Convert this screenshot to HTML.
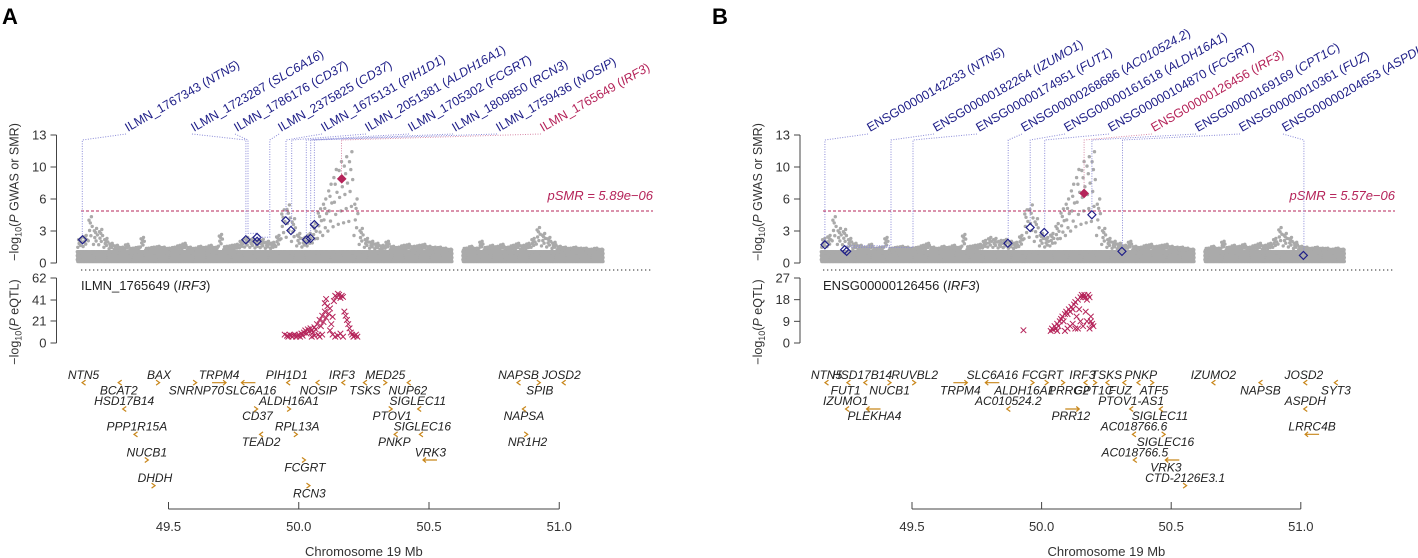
<!DOCTYPE html>
<html><head><meta charset="utf-8"><style>
html,body{margin:0;padding:0;background:#fff}
svg{display:block;font-family:"Liberation Sans",sans-serif}
</style></head><body>
<svg id="c" width="1418" height="558" viewBox="0 0 1418 558">
<text x="2" y="24" font-size="22" font-weight="bold">A</text>
<text x="712" y="24" font-size="22" font-weight="bold">B</text>
</svg>
<script>
// GWAS envelope (max -log10 P) per 0.02 Mb bin starting at 49.16
const gwasStart = 49.16;
const gwasStep = 0.02;
const gwasEnvelope = [2.5,2.8,4.7,3.5,3.4,2.5,2.0,1.8,1.6,1.9,1.5,1.6,2.6,1.5,1.6,1.7,1.6,1.5,1.6,1.8,2.0,1.6,1.5,1.7,1.6,1.8,1.6,2.9,1.7,1.8,1.9,2.3,2.6,2.5,2.3,2.4,2.2,2.1,2.8,5.4,5.9,4.5,3.0,2.6,3.0,4.0,5.5,6.5,8.0,9.5,10.3,10.8,11.3,6.5,3.5,2.5,2.2,2.0,1.8,2.2,1.7,1.6,1.8,1.9,1.7,1.8,1.9,1.7,1.6,1.6,1.5,1.4,null,null,1.5,1.7,1.5,2.2,1.6,1.8,1.7,1.9,1.6,1.8,2.0,1.8,2.0,2.5,3.6,3.0,2.6,2.1,1.7,1.6,1.5,1.6,1.5,1.5,1.4,1.5,1.4];
const xTicks = [49.5,50.0,50.5,51.0];
const xTickLabels = ["49.5","50.0","50.5","51.0"];
const gwasTickLabels = ["0","3","6","10","13"];
// Panel A
const aProbeNames = ["ILMN_1767343","ILMN_1723287","ILMN_1786176","ILMN_2375825","ILMN_1675131","ILMN_2051381","ILMN_1705302","ILMN_1809850","ILMN_1759436","ILMN_1765649"];
const aProbeGenes = ["NTN5","SLC6A16","CD37","CD37","PIH1D1","ALDH16A1","FCGRT","RCN3","NOSIP","IRF3"];
const aProbePos = [49.169,49.797,49.805,49.889,49.951,49.973,50.029,50.046,50.06,50.164];
const aSmrPos = [49.17,49.797,49.84,49.84,49.95,49.97,50.03,50.045,50.06,50.165];
const aSmrVal = [2.36,2.36,2.6,2.2,4.3,3.3,2.36,2.5,3.9,8.55];
const aEqtl = [[49.946,8],[49.955,7],[49.96,6],[49.965,8],[49.97,7],[49.975,6],[49.98,7],[49.985,8],[49.99,6],[49.995,7],[50.0,8],[50.005,6],[50.01,9],[50.015,7],[50.02,10],[50.025,12],[50.03,9],[50.035,13],[50.04,11],[50.045,14],[50.05,12],[50.055,10],[50.06,15],[50.065,13],[50.07,18],[50.075,8],[50.08,22],[50.085,16],[50.09,26],[50.095,20],[50.1,30],[50.105,24],[50.1,38],[50.105,42],[50.11,35],[50.115,28],[50.12,33],[50.125,18],[50.13,25],[50.135,40],[50.14,45],[50.145,44],[50.15,47],[50.155,46],[50.16,43],[50.165,45],[50.17,44],[50.175,30],[50.18,26],[50.185,22],[50.19,18],[50.195,14],[50.2,10],[50.205,8],[50.21,6],[50.215,7],[50.22,8],[50.225,6],[50.13,8],[50.14,6],[50.15,7],[50.16,9],[50.17,6],[50.12,12],[50.09,8],[50.08,6],[50.06,7],[50.05,6]];
const aEqtlTicks = ["0","21","41","62"];
// Panel B
const bProbeNames = ["ENSG00000142233","ENSG00000182264","ENSG00000174951","ENSG00000268686","ENSG00000161618","ENSG00000104870","ENSG00000126456","ENSG00000169169","ENSG00000010361","ENSG00000204653"];
const bProbeGenes = ["NTN5","IZUMO1","FUT1","AC010524.2","ALDH16A1","FCGRT","IRF3","CPT1C","FUZ","ASPDH"];
const bProbePos = [49.164,49.419,49.504,49.871,49.956,50.012,50.164,50.194,50.312,51.012];
const bSmrPos = [49.164,49.24,49.248,49.87,49.956,50.01,50.164,50.194,50.31,51.01];
const bSmrVal = [1.85,1.35,1.18,2.0,3.6,3.1,7.07,4.9,1.18,0.77];
const bEqtl = [[49.93,5.3],[50.035,5],[50.04,6],[50.045,5.5],[50.05,7],[50.055,6],[50.06,8],[50.065,7],[50.07,9],[50.075,10],[50.08,11],[50.085,9],[50.09,12],[50.095,13],[50.1,12],[50.105,14],[50.11,13],[50.115,15],[50.12,14],[50.125,16],[50.13,17],[50.135,11],[50.14,18],[50.145,14],[50.15,19],[50.155,20],[50.16,19],[50.165,20],[50.17,19],[50.175,18],[50.18,20],[50.185,19],[50.19,9],[50.195,8],[50.2,7],[50.19,11],[50.185,6],[50.175,9],[50.17,13],[50.16,7],[50.15,9],[50.14,6],[50.13,6],[50.12,8],[50.11,7],[50.1,6],[50.09,5],[50.06,5]];
const bEqtlTicks = ["0","9","18","27"];
// gene tracks: [name, textX, textY, arrowX, arrowY, dir] (zoom units)
const aGenes = [["NTN5",185,75,185,98,"<"],["BAX",352,75,350,98,">"],["TRPM4",485,75,485,98,"→"],["PIH1D1",635,75,638,98,"<"],["IRF3",757,75,760,98,"<"],["MED25",853,75,853,98,">"],["NAPSB",1148,75,1148,98,"<"],["JOSD2",1243,75,1248,98,"<"],["BCAT2",263,122,265,98,"<"],["SNRNP70",435,122,432,98,">"],["SLC6A16",555,122,550,98,"←"],["NOSIP",705,122,703,98,"<"],["TSKS",808,122,808,98,"<"],["NUP62",903,122,905,98,"<"],["SPIB",1195,122,1193,98,">"],["HSD17B14",275,153,275,177,"<"],["ALDH16A1",640,153,640,177,">"],["SIGLEC11",925,153,928,177,"<"],["CD37",570,198,567,177,">"],["PTOV1",868,198,865,177,">"],["NAPSA",1160,198,1160,177,"<"],["PPP1R15A",303,230,300,253,"<"],["RPL13A",658,230,655,253,">"],["SIGLEC16",935,230,932,253,"<"],["TEAD2",578,276,578,253,"<"],["PNKP",873,276,876,253,"<"],["NR1H2",1168,276,1165,253,">"],["NUCB1",325,307,325,330,">"],["VRK3",953,307,952,330,"←"],["FCGRT",675,353,673,330,">"],["DHDH",343,384,340,407,">"],["RCN3",685,430,683,407,">"]];
const bGenes = [["NTN5",255,75,255,98,"<"],["HSD17B14",333,75,340,98,"<"],["RUVBL2",448,75,447,98,">"],["FUT1",297,122,303,98,"<"],["NUCB1",393,122,393,98,">"],["IZUMO1",297,153,300,177,"<"],["PLEKHA4",360,198,358,177,"←"],["SLC6A16",618,75,618,98,"←"],["TRPM4",548,122,548,98,"→"],["FCGRT",728,75,706,98,">"],["ALDH16A1",688,122,737,98,">"],["PRRG2",785,122,773,98,">"],["IRF3",815,75,822,98,"<"],["CPT1C",840,122,843,98,">"],["TSKS",868,75,870,98,"<"],["FUZ",898,122,907,98,"<"],["PNKP",943,75,938,98,"<"],["ATF5",972,122,968,98,">"],["AC010524.2",653,153,653,177,"<"],["PRR12",790,198,793,177,"→"],["PTOV1-AS1",922,153,922,177,"<"],["SIGLEC11",985,198,987,177,"<"],["AC018766.6",928,230,928,253,"<"],["SIGLEC16",997,276,993,253,">"],["AC018766.5",930,307,930,330,"<"],["VRK3",998,353,1012,330,"←"],["CTD-2126E3.1",1040,384,1040,407,">"],["IZUMO2",1102,75,1102,98,"<"],["NAPSB",1205,122,1205,98,"<"],["JOSD2",1300,75,1303,98,"<"],["SYT3",1370,122,1370,98,"<"],["ASPDH",1303,153,1303,177,"<"],["LRRC4B",1318,230,1318,253,"←"]];

const NS="http://www.w3.org/2000/svg";
const svg=document.getElementById('c');
function mk(tag,attrs,parent){const e=document.createElementNS(NS,tag);for(const k in attrs)e.setAttribute(k,attrs[k]);(parent||svg).appendChild(e);return e;}
const GRAY="#aaaaaa",NAVY="#1f1f88",RED="#b5245a",LEAD="#8a8ad8",ORANGE="#c8861a",AX="#444";

function panel(cfg){
  const g=mk('g',{});
  
  
  const X=m=>cfg.x0+(m-49.5)*cfg.sc;
  const Y=v=>263-v*(128/13);
  const YE=v=>343-v*(65/cfg.eMax);
  const pg=mk('g',{fill:GRAY},g);
  
  
  const bw=gwasStep*cfg.sc;
  const xo=[0.1,0.3,0.5,0.7,0.9], yl=[0.15,0.35,0.55,0.75,0.95,1.15];
  const fr=[0.3,0.45,0.6,0.72,0.82,0.9,1.0], fx=[0.1,0.6,0.35,0.85,0.5,0.25,0.7];
  gwasEnvelope.forEach((env,i)=>{
    if(env===null)return;
    const m=gwasStart+i*gwasStep, bx=X(m)-bw/2;
    xo.forEach((o,j)=>yl.forEach((l,k)=>{
      const c=mk('circle',{cx:(bx+((o+k*0.1)%1)*bw).toFixed(1),cy:Y(l).toFixed(1),r:1.7},pg);
      
      
    }));
    if(env>1.3){fr.forEach((f,j)=>{
      const c=mk('circle',{cx:(bx+fx[j]*bw).toFixed(1),cy:Y(1.2+(env-1.2)*f).toFixed(1),r:1.7},pg);
      
      
    });}
  });
  const th=mk('line',{x1:cfg.pL,x2:cfg.pR,y1:211,y2:211,stroke:RED,'stroke-width':1,'stroke-dasharray':'3,2'},g);
  
  
  const tt=mk('text',{x:cfg.pR,y:200,'text-anchor':'end','font-size':13,'font-style':'italic',fill:RED},g);
  tt.textContent=cfg.psmr;
  
  
  cfg.names.forEach((nm,i)=>{
    const col=i===cfg.hi?RED:NAVY, lcol=i===cfg.hi?"#d88aa8":LEAD;
    const px=X(cfg.probe[i]), dx=X(cfg.smrPos[i]), dy=Y(cfg.smrVal[i]);
    const pl=mk('polyline',{points:`${cfg.lx[i]},134 ${px.toFixed(1)},140 ${px.toFixed(1)},${(dy-4).toFixed(1)} ${dx.toFixed(1)},${(dy-4).toFixed(1)}`,fill:'none',stroke:lcol,'stroke-width':1,'stroke-dasharray':'1,1.5'},g);
    
    
    const t=mk('text',{x:cfg.lx[i]+2,y:132,'font-size':12.5,fill:col,transform:`rotate(-30 ${cfg.lx[i]+2} 132)`},g);
    
    
    t.appendChild(document.createTextNode(nm+' ('));
    const ts=mk('tspan',{'font-style':'italic'},t);ts.textContent=cfg.genes[i];
    t.appendChild(document.createTextNode(')'));
    const s=4;
    const d=mk('polygon',{points:`${dx},${dy-s} ${dx+s},${dy} ${dx},${dy+s} ${dx-s},${dy}`,fill:i===cfg.hi?RED:'none',stroke:col,'stroke-width':1.2},g);
    
    
  });
  const sp=mk('line',{x1:cfg.pL,x2:cfg.pR,y1:270,y2:270,stroke:'#555','stroke-width':1.3,'stroke-dasharray':'1.3,2.7'},g);
  
  
  const ax=cfg.ax;
  const ya=mk('line',{x1:ax,x2:ax,y1:135,y2:263,stroke:AX},g);
  
  
  gwasTickLabels.forEach((l,i)=>{const y=263-i*32;mk('line',{x1:ax-6,x2:ax,y1:y,y2:y,stroke:AX},g);
    const t=mk('text',{x:ax-10,y:y+4.5,'text-anchor':'end','font-size':13,fill:'#333'},g);t.textContent=l;
    });
  const ye=mk('line',{x1:ax,x2:ax,y1:278,y2:343,stroke:AX},g);
  
  
  cfg.eTicks.forEach((l,i)=>{const y=YE(+l);mk('line',{x1:ax-6,x2:ax,y1:y,y2:y,stroke:AX},g);
    const t=mk('text',{x:ax-10,y:y+4.5,'text-anchor':'end','font-size':13,fill:'#333'},g);t.textContent=l;
    });
  const yt=mk('text',{x:0,y:0,'font-size':12.5,'text-anchor':'middle',fill:'#333',transform:`translate(${ax-38},192) rotate(-90)`},g);
  yt.innerHTML='−log<tspan font-size="9" dy="3">10</tspan><tspan dy="-3">(</tspan><tspan font-style="italic">P</tspan> GWAS or SMR)';
  
  const yt2=mk('text',{x:0,y:0,'font-size':12.5,'text-anchor':'middle',fill:'#333',transform:`translate(${ax-38},322) rotate(-90)`},g);
  yt2.innerHTML='−log<tspan font-size="9" dy="3">10</tspan><tspan dy="-3">(</tspan><tspan font-style="italic">P</tspan> eQTL)';
  
  const et=mk('text',{x:cfg.pL,y:290,'font-size':13,fill:'#222'},g);
  et.innerHTML=cfg.names[cfg.hi]+' (<tspan font-style="italic">IRF3</tspan>)';
  
  cfg.eqtl.forEach(p=>{const x=X(p[0]),y=YE(p[1]),s=2.8;
    const c=mk('path',{d:`M${x-s},${y-s}L${x+s},${y+s}M${x-s},${y+s}L${x+s},${y-s}`,stroke:RED,'stroke-width':1,fill:'none'},g);
    });
  cfg.genesTrack.forEach(gn=>{
    const tx=cfg.gOff+gn[1]/cfg.zf, ty=350+gn[2]/3, axx=cfg.gOff+gn[3]/cfg.zf, ay=350+gn[4]/3;
    const t=mk('text',{x:tx,y:ty+4,'text-anchor':'middle','font-size':12,'font-style':'italic',fill:'#222'},g);
    t.textContent=gn[0];
    let d;
    if(gn[5]==='<')d=`M${axx+2},${ay-2.5}L${axx-1.5},${ay}L${axx+2},${ay+2.5}`;
    else if(gn[5]==='>')d=`M${axx-2},${ay-2.5}L${axx+1.5},${ay}L${axx-2},${ay+2.5}`;
    else if(gn[5]==='→')d=`M${axx-7},${ay}L${axx+7},${ay}M${axx+4},${ay-2.5}L${axx+7},${ay}L${axx+4},${ay+2.5}`;
    else d=`M${axx+7},${ay}L${axx-7},${ay}M${axx-4},${ay-2.5}L${axx-7},${ay}L${axx-4},${ay+2.5}`;
    const a=mk('path',{d:d,stroke:ORANGE,'stroke-width':1.2,fill:'none'},g);
    
  });
  const xa=mk('line',{x1:X(xTicks[0]),x2:X(xTicks[xTicks.length-1]),y1:509,y2:509,stroke:AX},g);
  
  xTicks.forEach((v,i)=>{const x=X(v);mk('line',{x1:x,x2:x,y1:502,y2:509,stroke:AX},g);
    const t=mk('text',{x:x,y:531,'text-anchor':'middle','font-size':13,fill:'#333'},g);t.textContent=xTickLabels[i];
    });
  const xt=mk('text',{x:(X(49.5)+X(51))/2,y:556,'text-anchor':'middle','font-size':13,fill:'#333'},g);
  xt.textContent='Chromosome 19 Mb';
}
panel({id:'a',x0:168.5,sc:260.5,ax:56.5,pL:81,pR:653,eMax:62,psmr:'pSMR = 5.89e−06',names:aProbeNames,genes:aProbeGenes,probe:aProbePos,smrPos:aSmrPos,smrVal:aSmrVal,hi:9,lx:[126,192,235,279,322,366,409,453,497,541],eqtl:aEqtl,eTicks:aEqtlTicks,genesTrack:aGenes,gOff:0,zf:2.214});
panel({id:'b',x0:912,sc:259.2,ax:800,pL:823,pR:1395,eMax:27,psmr:'pSMR = 5.57e−06',names:bProbeNames,genes:bProbeGenes,probe:bProbePos,smrPos:bSmrPos,smrVal:bSmrVal,hi:6,lx:[868,934,977,1022,1065,1109,1152,1196,1240,1283],eqtl:bEqtl,eTicks:bEqtlTicks,genesTrack:bGenes,gOff:710,zf:2.189});
</script>
</body></html>
